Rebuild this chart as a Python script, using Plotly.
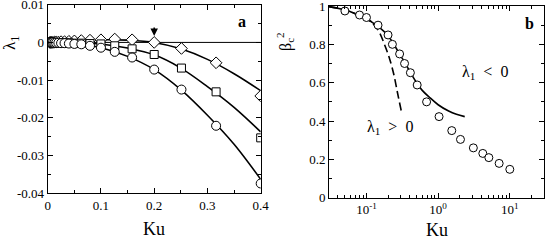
import math
import plotly.graph_objects as go

# ---------------- Panel a data ----------------
ku_a = [0.004, 0.005, 0.0063, 0.0079, 0.01, 0.0126, 0.0158, 0.02, 0.0251, 0.0316,
        0.0398, 0.0501, 0.0631, 0.0794, 0.1, 0.1259, 0.1585, 0.2, 0.2512, 0.3162, 0.4]
lam_diamond = [0, 0, 0, 0, 0, 0.0001, 0.0001, 0.0001, 0.0002, 0.0002, 0.0003, 0.0004,
               0.0005, 0.0006, 0.0007, 0.0009, 0.0007, 0.0, -0.0016, -0.0054, -0.0142]
lam_square = [0, 0, 0, 0, 0, 0, 0, -0.0001, -0.0001, -0.0001, -0.0001, -0.0002,
              -0.0002, -0.0003, -0.0004, -0.0009, -0.0017, -0.0032, -0.0068, -0.0131, -0.0253]
lam_circle = [0, 0, 0, 0, 0, -0.0001, -0.0001, -0.0001, -0.0002, -0.0002, -0.0003, -0.0004,
              -0.0005, -0.0009, -0.0014, -0.0025, -0.004, -0.0072, -0.0125, -0.0221, -0.0374]

ku_fit_a = [0, 0.05, 0.1, 0.15, 0.2, 0.25, 0.3, 0.35, 0.4]
fit_diamond = [0, 0.0003, 0.0007, 0.0006, 0.0, -0.0017, -0.0045, -0.0083, -0.0128]
fit_square = [0, -0.0001, -0.0004, -0.0015, -0.0033, -0.0068, -0.0117, -0.0172, -0.0237]
fit_circle = [0, -0.0003, -0.0014, -0.0037, -0.0072, -0.0125, -0.0193, -0.0270, -0.0363]

a_xticks = [0, 0.1, 0.2, 0.3, 0.4]
a_xticklabels = ["0", "0.1", "0.2", "0.3", "0.4"]
a_yticks = [0.01, 0, -0.01, -0.02, -0.03, -0.04]
a_yticklabels = ["0.01", "0", "-0.01", "-0.02", "-0.03", "-0.04"]

# ---------------- Panel b data ----------------
ku_b = [0.05, 0.08, 0.1, 0.145, 0.2, 0.23, 0.29, 0.34, 0.41, 0.51, 0.69, 1.03,
        1.55, 2.05, 3.1, 4.2, 5.1, 7.1, 10]
beta_b = [0.974, 0.953, 0.94, 0.90, 0.849, 0.80, 0.75, 0.70, 0.652, 0.588, 0.50, 0.423,
          0.35, 0.304, 0.26, 0.231, 0.209, 0.179, 0.148]

ku_solid = [0.03, 0.05, 0.07, 0.1, 0.12, 0.15, 0.2, 0.25, 0.3, 0.35, 0.4, 0.5, 0.6,
            0.75, 1.0, 1.4, 1.8, 2.35]
beta_solid = [0.997, 0.98, 0.96, 0.935, 0.915, 0.89, 0.845, 0.79, 0.74, 0.70, 0.66,
              0.60, 0.56, 0.525, 0.485, 0.452, 0.435, 0.423]

ku_dash = [0.03, 0.05, 0.07, 0.1, 0.12, 0.15, 0.18, 0.21, 0.24, 0.27, 0.305]
beta_dash = [0.997, 0.98, 0.96, 0.932, 0.912, 0.865, 0.795, 0.725, 0.645, 0.55, 0.455]

b_xticks = [0.1, 1, 10]
b_xticklabels = ["10<sup>-1</sup>", "10<sup>0</sup>", "10<sup>1</sup>"]
b_yticks = [0, 0.2, 0.4, 0.6, 0.8, 1]
b_yticklabels = ["0", "0.2", "0.4", "0.6", "0.8", "1"]

FONT = "Liberation Serif, Times New Roman, serif"
W, H = 545, 241

fig = go.Figure()

lw = 1.6
for yv in (fit_diamond, fit_square, fit_circle):
    fig.add_trace(go.Scatter(x=ku_fit_a, y=yv, mode="lines", line=dict(color="black", width=lw, shape="spline"),
                             xaxis="x", yaxis="y", showlegend=False, hoverinfo="skip"))
for yv, sym, sz in ((lam_diamond, "diamond", 9), (lam_square, "square", 8), (lam_circle, "circle", 9)):
    fig.add_trace(go.Scatter(x=ku_a, y=yv, mode="markers",
                             marker=dict(symbol=sym, size=sz, color="white", line=dict(color="black", width=1)),
                             xaxis="x", yaxis="y", showlegend=False))

fig.add_trace(go.Scatter(x=ku_solid, y=beta_solid, mode="lines", line=dict(color="black", width=lw, shape="spline"),
                         xaxis="x2", yaxis="y2", showlegend=False))
fig.add_trace(go.Scatter(x=ku_dash, y=beta_dash, mode="lines",
                         line=dict(color="black", width=lw, dash="8px,4px", shape="spline"),
                         xaxis="x2", yaxis="y2", showlegend=False))
fig.add_trace(go.Scatter(x=ku_b, y=beta_b, mode="markers",
                         marker=dict(symbol="circle", size=8, color="white", line=dict(color="black", width=1)),
                         xaxis="x2", yaxis="y2", showlegend=False))

ax_common = dict(showline=True, linecolor="black", linewidth=1, mirror="allticks", ticks="inside",
                 ticklen=5, tickcolor="black", showgrid=False, zeroline=False, ticklabeloverflow="allow",
                 tickfont=dict(family=FONT, size=13, color="black"), automargin=False)

xa_dom = [47.7 / W, 260.7 / W]
ya_dom = [1 - 193.3 / H, 1 - 4.7 / H]
xb_dom = [329 / W, 544 / W]
yb_dom = [1 - 197.7 / H, 1 - 6 / H]

b_minor = [m * 10 ** e for e in (-2, -1, 0, 1) for m in range(2, 10) if 0.03 <= m * 10 ** e <= 30]

fig.update_layout(
    width=W, height=H, margin=dict(l=0, r=0, t=0, b=0),
    paper_bgcolor="white", plot_bgcolor="white",
    font=dict(family=FONT, color="black"),
    xaxis=dict(domain=xa_dom, range=[0, 0.4], tickmode="array", tickvals=a_xticks, ticktext=a_xticklabels,
               anchor="y", minor=dict(tickvals=[0.05, 0.15, 0.25, 0.35], ticks="inside", ticklen=3, tickcolor="black"),
               **ax_common),
    yaxis=dict(domain=ya_dom, range=[-0.04, 0.01], tickmode="array", tickvals=a_yticks, ticktext=a_yticklabels,
               anchor="x", minor=dict(tickvals=[0.005, -0.005, -0.015, -0.025, -0.035], ticks="inside", ticklen=3, tickcolor="black"),
               **ax_common),
    xaxis2=dict(domain=xb_dom, type="log", range=[math.log10(0.03), math.log10(30)], tickmode="array",
                tickvals=b_xticks, ticktext=b_xticklabels, anchor="y2",
                minor=dict(tickvals=b_minor, ticks="inside", ticklen=3, tickcolor="black"),
                **ax_common),
    yaxis2=dict(domain=yb_dom, range=[0, 1], tickmode="array", tickvals=b_yticks, ticktext=b_yticklabels,
                anchor="x2", minor=dict(tickvals=[0.1, 0.3, 0.5, 0.7, 0.9], ticks="inside", ticklen=3, tickcolor="black"),
                **ax_common),
    shapes=[dict(type="line", xref="x", yref="y", x0=0, x1=0.4, y0=0, y1=0, line=dict(color="black", width=1), layer="below")],
)

ann = []
ann.append(dict(text="Ku", xref="paper", yref="paper", x=(47.7 + 260.7) / 2 / W, y=1 - 229 / H,
                showarrow=False, font=dict(family=FONT, size=18, color="black"), xanchor="center", yanchor="middle"))
ann.append(dict(text="Ku", xref="paper", yref="paper", x=(329 + 544) / 2 / W, y=1 - 230 / H,
                showarrow=False, font=dict(family=FONT, size=18, color="black"), xanchor="center", yanchor="middle"))
ann.append(dict(text="λ<sub>1</sub>", xref="paper", yref="paper", x=11 / W, y=1 - 43 / H, textangle=-90,
                showarrow=False, font=dict(family=FONT, size=17, color="black"), xanchor="center", yanchor="middle"))
ann.append(dict(text="β<sub>c</sub><sup>2</sup>", xref="paper", yref="paper", x=285 / W, y=1 - 42 / H, textangle=-90,
                showarrow=False, font=dict(family=FONT, size=16, color="black"), xanchor="center", yanchor="middle"))
ann.append(dict(text="<b>a</b>", xref="paper", yref="paper", x=242 / W, y=1 - 21 / H, showarrow=False,
                font=dict(family=FONT, size=16, color="black"), xanchor="center", yanchor="middle"))
ann.append(dict(text="<b>b</b>", xref="paper", yref="paper", x=529 / W, y=1 - 24 / H, showarrow=False,
                font=dict(family=FONT, size=16, color="black"), xanchor="center", yanchor="middle"))
ann.append(dict(text="λ<sub>1</sub>&nbsp;&nbsp;&lt;&nbsp;&nbsp;0", xref="paper", yref="paper", x=485 / W, y=1 - 72 / H,
                showarrow=False, font=dict(family=FONT, size=16, color="black"), xanchor="center", yanchor="middle"))
ann.append(dict(text="λ<sub>1</sub>&nbsp;&nbsp;&gt;&nbsp;&nbsp;0", xref="paper", yref="paper", x=390 / W, y=1 - 127 / H,
                showarrow=False, font=dict(family=FONT, size=16, color="black"), xanchor="center", yanchor="middle"))
ann.append(dict(x=0.2, y=0.0017, xref="x", yref="y", ax=0, ay=-10, showarrow=True, arrowhead=2,
                arrowsize=1, arrowwidth=1.5, arrowcolor="black", text=""))
fig.update_layout(annotations=ann)

fig.write_html("out.html", config={"displayModeBar": False},
               post_script="document.body.style.margin='0';document.body.style.padding='0';")
